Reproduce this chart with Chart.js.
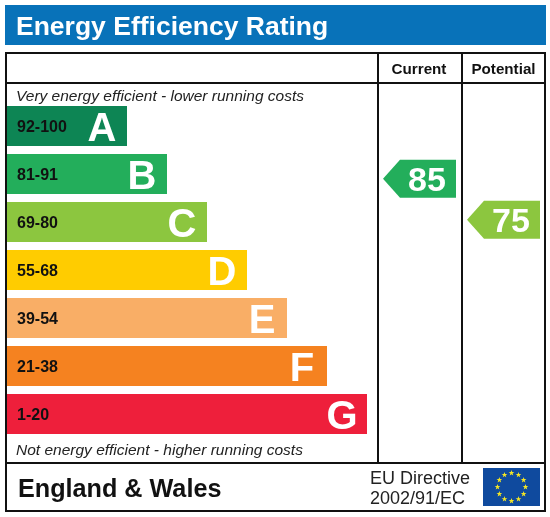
<!DOCTYPE html>
<html>
<head>
<meta charset="utf-8">
<title>Energy Efficiency Rating</title>
<script src="https://cdn.jsdelivr.net/npm/chart.js@4/dist/chart.umd.min.js"></script>
<style>
  html, body { margin: 0; padding: 0; background: #fff; }
  canvas { display: block; }
</style>
</head>
<body>
<canvas id="epcChart" width="550" height="517"></canvas>
<script>
const bandRanges = ['92-100', '81-91', '69-80', '55-68', '39-54', '21-38', '1-20'];
const bandLetters = ['A', 'B', 'C', 'D', 'E', 'F', 'G'];
const bandLengths = [3, 4, 5, 6, 7, 8, 9];
const bandColors = ['#0d8554', '#23ae5b', '#8cc63f', '#ffcc00', '#f9ae66', '#f58220', '#ee1f3b'];
const columnNames = ['Current', 'Potential'];
const ratings = [85, 75];

const FONT = '"Liberation Sans", Arial, sans-serif';

function text(ctx, str, x, y, font, color, align) {
  ctx.font = font + ' ' + FONT;
  ctx.fillStyle = color;
  ctx.textAlign = align || 'left';
  ctx.textBaseline = 'alphabetic';
  ctx.fillText(str, x, y);
}

// which band a rating falls in, and how far down that band it sits
function ratingPosition(rating) {
  const i = bandRanges.findIndex(r => {
    const [low, high] = r.split('-').map(Number);
    return rating >= low && rating <= high;
  });
  const [low, high] = bandRanges[i].split('-').map(Number);
  return { band: i, value: i + (high - rating) / (high - low) - 0.5 };
}

function drawStar(ctx, cx, cy, r) {
  ctx.beginPath();
  for (let i = 0; i < 10; i++) {
    const a = -Math.PI / 2 + i * Math.PI / 5;
    const d = i % 2 ? r * 0.4 : r;
    ctx.lineTo(cx + d * Math.cos(a), cy + d * Math.sin(a));
  }
  ctx.closePath();
  ctx.fill();
}

const frame = {
  id: 'frame',
  beforeDatasetsDraw(chart) {
    const ctx = chart.ctx;
    ctx.save();

    // title banner
    ctx.fillStyle = '#0872b9';
    ctx.fillRect(5, 5, 541, 40);
    text(ctx, 'Energy Efficiency Rating', 16, 35, 'bold 26.5px', '#fff');

    // table lines
    ctx.strokeStyle = '#111';
    ctx.lineWidth = 2;
    ctx.strokeRect(6, 53, 539, 458);
    ctx.beginPath();
    ctx.moveTo(6, 83); ctx.lineTo(545, 83);
    ctx.moveTo(6, 463); ctx.lineTo(545, 463);
    ctx.moveTo(378, 53); ctx.lineTo(378, 463);
    ctx.moveTo(462, 53); ctx.lineTo(462, 463);
    ctx.stroke();

    text(ctx, columnNames[0], 419, 74, 'bold 15.2px', '#111', 'center');
    text(ctx, columnNames[1], 503.5, 74, 'bold 15.2px', '#111', 'center');

    text(ctx, 'Very energy efficient - lower running costs', 16, 101, 'italic 15.5px', '#222');
    text(ctx, 'Not energy efficient - higher running costs', 16, 455, 'italic 15.5px', '#222');

    text(ctx, 'England & Wales', 18, 497, 'bold 25.2px', '#111');
    text(ctx, 'EU Directive', 370, 484, '18px', '#222');
    text(ctx, '2002/91/EC', 370, 504, '18px', '#222');

    // EU flag
    ctx.fillStyle = '#0f4a9e';
    ctx.fillRect(483, 468, 57, 38);
    ctx.fillStyle = '#f5e625';
    for (let i = 0; i < 12; i++) {
      const a = i * Math.PI / 6;
      drawStar(ctx, 511.5 + 14 * Math.sin(a), 487 - 14 * Math.cos(a), 3);
    }
    ctx.restore();
  },
  afterDatasetsDraw(chart) {
    const ctx = chart.ctx;
    const xScale = chart.scales.x;
    const yScale = chart.scales.y;
    ctx.save();

    // band letters at the end of each bar
    bandLetters.forEach((letter, i) => {
      const x = xScale.getPixelForValue(bandLengths[i]) - 25;
      text(ctx, letter, x, yScale.getPixelForValue(i) + 15, 'bold 40px', '#fff', 'center');
    });

    // rating tags
    const tagRight = [456, 540];
    ratings.forEach((rating, c) => {
      const pos = ratingPosition(rating);
      const y = yScale.getPixelForValue(pos.value);
      const r = tagRight[c];
      ctx.fillStyle = bandColors[pos.band];
      ctx.beginPath();
      ctx.moveTo(r, y - 19);
      ctx.lineTo(r - 56, y - 19);
      ctx.lineTo(r - 73, y);
      ctx.lineTo(r - 56, y + 19);
      ctx.lineTo(r, y + 19);
      ctx.closePath();
      ctx.fill();
      text(ctx, String(rating), r - 29, y + 12, 'bold 34px', '#fff', 'center');
    });
    ctx.restore();
  }
};

new Chart(document.getElementById('epcChart').getContext('2d'), {
  type: 'bar',
  data: {
    labels: bandRanges,
    datasets: [{
      data: bandLengths,
      backgroundColor: bandColors,
      borderWidth: 0,
      barPercentage: 40 / 48,
      categoryPercentage: 1
    }]
  },
  plugins: [frame],
  options: {
    indexAxis: 'y',
    responsive: false,
    animation: false,
    devicePixelRatio: 1,
    layout: { padding: { left: 7, right: 172, top: 102, bottom: 79 } },
    plugins: { legend: { display: false }, tooltip: { enabled: false } },
    scales: {
      x: { display: false, min: 0, max: 9.275 },
      y: {
        grid: { display: false },
        border: { display: false },
        afterFit(scale) { scale.width = 0; },
        ticks: {
          mirror: true,
          padding: 10,
          labelOffset: 1.5,
          z: 1,
          color: '#111',
          font: { family: FONT, size: 16, weight: 'bold' }
        }
      }
    }
  }
});
</script>
</body>
</html>
